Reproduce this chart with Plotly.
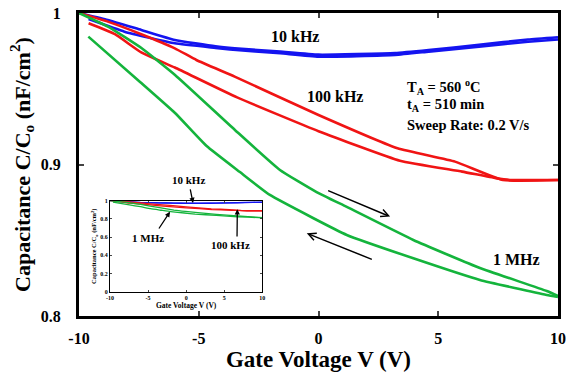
import plotly.graph_objects as go

# ---- data ----
# 10 kHz (blue)
blue_fwd_v = [-10, -8.8, -7.4, -6, -4.3, -3.5, -1.6, 0, 3.2, 4.6, 6.7, 8.75, 10]
blue_fwd_c = [1.0, 0.9954, 0.9888, 0.9822, 0.978, 0.9767, 0.9745, 0.9725, 0.9735, 0.9755, 0.979, 0.9825, 0.984]
blue_rev_v = [10, 8.75, 6.7, 4.6, 3.2, 0, -1.6, -3.7, -4.3, -6, -8.1, -9.6]
blue_rev_c = [0.9825, 0.981, 0.9778, 0.9745, 0.9723, 0.9712, 0.9734, 0.976, 0.977, 0.980, 0.9877, 0.996]

# 100 kHz (red)
red_fwd_v = [-10, -8.8, -7.4, -6, -5.1, -3.5, 0, 3.3, 5.7, 7.7, 10]
red_fwd_c = [1.0, 0.9943, 0.986, 0.9767, 0.969, 0.958, 0.9327, 0.9107, 0.9019, 0.8898, 0.8898]
red_rev_v = [10, 8, 7.4, 6, 3.4, 0, -3.4, -6, -7.4, -8.5, -9.6]
red_rev_c = [0.8898, 0.8898, 0.891, 0.8953, 0.9025, 0.922, 0.9443, 0.964, 0.974, 0.986, 0.9932]

# 1 MHz (green)
green_fwd_v = [-10, -8.79, -7.38, -5.99, -3.49, -1.61, -0.08, 1.18, 3.96, 6.74, 9.53, 10]
green_fwd_c = [1.0, 0.991, 0.9767, 0.9591, 0.9228, 0.8964, 0.8818, 0.872, 0.8502, 0.8317, 0.8165, 0.8132]
green_rev_v = [10, 9.53, 6.74, 3.96, 1.18, -0.23, -2.03, -3.28, -4.67, -5.99, -7.45, -9.61]
green_rev_c = [0.8125, 0.8139, 0.8238, 0.8381, 0.8535, 0.8647, 0.8799, 0.895, 0.9122, 0.934, 0.9545, 0.9844]

x_ticks = [-10, -5, 0, 5, 10]
x_tick_text = ["-10", "-5", "0", "5", "10"]
y_ticks = [0.8, 0.9, 1.0]
y_tick_text = ["0.8", "0.9", "1"]
inset_y_ticks = [0, 0.2, 0.4, 0.6, 0.8, 1.0]
inset_y_text = ["0", "0.2", "0.4", "0.6", "0.8", "1"]

BLUE = "#1414F0"
RED = "#F01414"
GREEN = "#14B43C"
FONT = "Liberation Serif"

series = [
    (blue_fwd_v, blue_fwd_c, BLUE), (blue_rev_v, blue_rev_c, BLUE),
    (red_fwd_v, red_fwd_c, RED), (red_rev_v, red_rev_c, RED),
    (green_fwd_v, green_fwd_c, GREEN), (green_rev_v, green_rev_c, GREEN),
]

fig = go.Figure()
for v, c, col in series:
    fig.add_trace(go.Scatter(x=v, y=c, mode="lines",
                             line=dict(color=col, width=2.6, shape="spline", smoothing=0.4),
                             xaxis="x", yaxis="y", showlegend=False, hoverinfo="skip"))
for v, c, col in series:
    fig.add_trace(go.Scatter(x=v, y=c, mode="lines",
                             line=dict(color=col, width=1.3, shape="spline", smoothing=0.4),
                             xaxis="x2", yaxis="y2", showlegend=False, hoverinfo="skip"))

bold = dict(family=FONT, color="black")
B = lambda items: ["<b>%s</b>" % t for t in items]

fig.update_layout(
    width=566, height=372,
    margin=dict(l=79, r=8, t=13, b=56),
    paper_bgcolor="white", plot_bgcolor="white",
    font=dict(family=FONT, color="black"),
    xaxis=dict(range=[-10, 10], tickvals=x_ticks, ticktext=B(x_tick_text),
               ticks="inside", ticklen=5, tickwidth=2,
               showline=True, linewidth=3, linecolor="black", mirror="ticks",
               showgrid=False, zeroline=False, ticklabelstandoff=6, automargin=False,
               tickfont=dict(size=16, **bold),
               title=dict(text="<b>Gate Voltage V (V)</b>", font=dict(size=23, **bold), standoff=0)),
    yaxis=dict(range=[0.8, 1.0], tickvals=y_ticks, ticktext=B(y_tick_text),
               ticks="inside", ticklen=5, tickwidth=2,
               showline=True, linewidth=3, linecolor="black", mirror="ticks",
               showgrid=False, zeroline=False, ticklabelstandoff=12, automargin=False,
               tickfont=dict(size=16, **bold),
               title=dict(text="<b>Capacitance C/C<sub>o</sub> (nF/cm<sup>2</sup>)</b>",
                          font=dict(size=22, **bold), standoff=5)),
    xaxis2=dict(domain=[0.0647, 0.3827], anchor="y2", range=[-10, 10], tickvals=x_ticks,
                ticktext=B(x_tick_text),
                ticks="inside", ticklen=2, tickwidth=1, showline=True, linewidth=1.2,
                linecolor="black", mirror="ticks", showgrid=False, zeroline=False,
                automargin=False, tickfont=dict(size=6, **bold),
                title=dict(text="<b>Gate Voltage V (V)</b>", font=dict(size=7.5, **bold), standoff=1)),
    yaxis2=dict(domain=[0.0802, 0.3805], anchor="x2", range=[0, 1.0], tickvals=inset_y_ticks,
                ticktext=B(inset_y_text),
                ticks="inside", ticklen=2, tickwidth=1, showline=True, linewidth=1.2,
                linecolor="black", mirror="ticks", showgrid=False, zeroline=False,
                automargin=False, tickfont=dict(size=6, **bold),
                title=dict(text="<b>Capacitance C/C<sub>o</sub> (nF/cm<sup>2</sup>)</b>",
                           font=dict(size=6.5, **bold), standoff=2)),
)

ann = []
def txt(x, y, s, size, xref="x", yref="y", xanchor="center"):
    ann.append(dict(x=x, y=y, xref=xref, yref=yref, text="<b>%s</b>" % s, showarrow=False,
                    xanchor=xanchor, yanchor="middle", font=dict(size=size, **bold)))

def arr(x0, y0, x1, y1, xref="x", yref="y", head=5, width=1.5, size=1.0):
    ann.append(dict(x=x1, y=y1, ax=x0, ay=y0, xref=xref, yref=yref, axref=xref, ayref=yref,
                    text="", showarrow=True, arrowhead=head, arrowwidth=width,
                    arrowsize=size, arrowcolor="black"))

# main annotations
txt(-0.98, 0.9844, "10 kHz", 16)
txt(0.69, 0.9448, "100 kHz", 16)
txt(8.28, 0.837, "1 MHz", 16)
txt(3.6, 0.9514, "T<sub>A</sub> = 560 <sup>o</sup>C", 14.5, xanchor="left")
txt(3.6, 0.9393, "t<sub>A</sub> = 510 min", 14.5, xanchor="left")
txt(3.6, 0.926, "Sweep Rate: 0.2 V/s", 14.5, xanchor="left")
arr(0.34, 0.8832, 2.99, 0.8656)
arr(2.29, 0.837, -0.49, 0.8546)

# inset annotations (domain-relative positions inside the inset axes)
txt(0.514, 1.227, "10 kHz", 11, xref="x2 domain", yref="y2 domain")
txt(-4.97, 0.587, "1 MHz", 11, xref="x2", yref="y2")
txt(5.76, 0.513, "100 kHz", 11, xref="x2", yref="y2")
arr(0.525, 1.14, 0.545, 0.975, xref="x2 domain", yref="y2 domain", head=2, width=1.3, size=0.8)
arr(-3.70, 0.678, -2.12, 0.879, xref="x2", yref="y2", head=2, width=1.3, size=0.8)
arr(6.68, 0.59, 6.72, 0.905, xref="x2", yref="y2", head=2, width=1.3, size=0.8)

fig.update_layout(annotations=ann)
fig.write_html("out.html", config={"displayModeBar": False},
               post_script="document.body.style.margin='0';document.body.style.padding='0';")
